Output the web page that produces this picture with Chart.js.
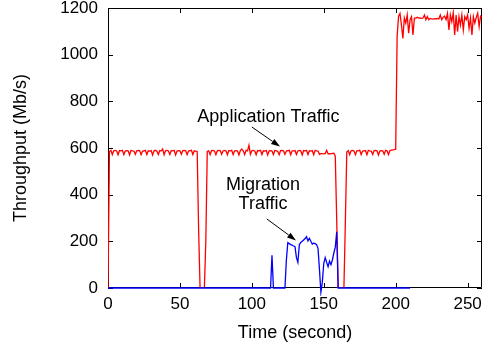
<!DOCTYPE html>
<html>
<head>
<meta charset="utf-8">
<script src="https://cdn.jsdelivr.net/npm/chart.js@4.4.0/dist/chart.umd.min.js"></script>
<style>
  html, body { margin: 0; padding: 0; background: #fff; }
  #wrap { width: 492px; height: 350px; }
</style>
</head>
<body>
<div id="wrap"><canvas id="chart" width="492" height="350"></canvas></div>
<script>
// --- data ---
// application traffic, one value per second (t = 0..260)
const appThroughput = [
  0, 585, 590, 572, 588, 590, 587, 571, 589, 588,
  590, 572, 587, 589, 588, 570, 590, 588, 587, 573,
  588, 590, 589, 571, 586, 588, 590, 572, 588, 587,
  589, 570, 588, 590, 586, 572, 589, 588, 596, 571,
  588, 590, 587, 572, 589, 588, 590, 570, 587, 589,
  588, 573, 589, 590, 588, 571, 587, 589, 590, 572,
  588, 587, 585, 250, 0, 0, 0, 0, 200, 585,
  588, 572, 589, 590, 587, 571, 588, 590, 589, 573,
  587, 590, 588, 571, 589, 588, 590, 572, 588, 589,
  587, 570, 589, 596, 588, 572, 590, 588, 612, 573,
  588, 590, 587, 571, 589, 588, 590, 572, 588, 587,
  590, 570, 588, 589, 587, 572, 590, 588, 586, 571,
  589, 590, 588, 573, 587, 589, 590, 571, 588, 588,
  589, 572, 587, 590, 588, 570, 589, 588, 590, 572,
  588, 587, 589, 571, 590, 588, 587, 573, 576, 576,
  575, 576, 590, 575, 576, 575, 577, 578, 565, 290,
  0, 0, 0, 0, 0, 280, 583, 589, 572, 588,
  590, 587, 571, 588, 589, 590, 572, 587, 588, 589,
  571, 590, 588, 587, 572, 589, 590, 588, 570, 587,
  589, 588, 573, 590, 588, 572, 589, 591, 592, 593,
  595, 1080, 1165, 1177, 1127, 1070, 1157, 1135, 1170, 1092,
  1150, 1163, 1084, 1157, 1157, 1160, 1157, 1158, 1156, 1157,
  1170, 1150, 1163, 1150, 1155, 1153, 1152, 1154, 1153, 1155,
  1153, 1170, 1150, 1160, 1165, 1150, 1177, 1106, 1170, 1142,
  1180, 1085, 1170, 1099, 1163, 1127, 1170, 1106, 1163, 1150,
  1170, 1113, 1157, 1085, 1163, 1135, 1160, 1178, 1120, 1165,
  1160
];

// migration traffic, sampled where it changes
const migTime = [
  0, 113, 114, 115, 123, 124, 125, 126, 127, 128,
  129, 130, 131, 132, 133, 134, 135, 136, 137, 138,
  139, 140, 141, 142, 143, 144, 145, 146, 147, 148,
  149, 150, 151, 152, 153, 154, 155, 156, 157, 158,
  159, 160, 210
];
const migThroughput = [
  0, 0, 140, 0, 0, 120, 194, 190, 186, 184,
  180, 177, 130, 110, 185, 195, 200, 206, 212, 220,
  202, 213, 200, 188, 192, 190, 186, 170, 80, -18,
  25, 106, 130, 110, 91, 115, 100, 120, 150, 175,
  241, 0, 0
];

const xTicks = [0, 50, 100, 150, 200, 250];
const yTicks = [0, 200, 400, 600, 800, 1000, 1200];

// labels with arrows (data coordinates)
const notes = [
  { lines: ['Application Traffic'], x: 111.5, y: 713, from: [100, 690], to: [119.6, 606] },
  { lines: ['Migration', 'Traffic'], x: 107.8, y: 420, from: [110.4, 296], to: [130.7, 204] }
];

const FONT = "'Liberation Sans', Arial, Helvetica, sans-serif";

// --- box + inward ticks on all four sides (gnuplot look) ---
const framePlugin = {
  id: 'frame',
  beforeDatasetsDraw(chart) {
    const { ctx, chartArea: a, scales: { x, y } } = chart;
    const len = 5;
    ctx.save();
    ctx.strokeStyle = '#000';
    ctx.lineWidth = 1;
    ctx.beginPath();
    ctx.rect(a.left + 0.5, a.top + 0.5, a.right - a.left - 1, a.bottom - a.top - 1);
    xTicks.forEach((v) => {
      const px = Math.round(x.getPixelForValue(v)) + 0.5;
      ctx.moveTo(px, a.bottom); ctx.lineTo(px, a.bottom - len);
      ctx.moveTo(px, a.top); ctx.lineTo(px, a.top + len);
    });
    yTicks.forEach((v) => {
      const py = Math.round(y.getPixelForValue(v)) + 0.5;
      ctx.moveTo(a.left, py); ctx.lineTo(a.left + len, py);
      ctx.moveTo(a.right, py); ctx.lineTo(a.right - len, py);
    });
    ctx.stroke();
    ctx.restore();
  }
};

// --- annotation texts and arrows ---
const notePlugin = {
  id: 'notes',
  afterDatasetsDraw(chart) {
    const { ctx, scales: { x, y } } = chart;
    ctx.save();
    ctx.fillStyle = '#000';
    ctx.strokeStyle = '#000';
    ctx.font = '18px ' + FONT;
    ctx.textAlign = 'center';
    ctx.textBaseline = 'alphabetic';
    notes.forEach((n) => {
      const tx = x.getPixelForValue(n.x);
      const ty = y.getPixelForValue(n.y);
      n.lines.forEach((line, i) => ctx.fillText(line, tx, ty + i * 19));

      const x1 = x.getPixelForValue(n.from[0]), y1 = y.getPixelForValue(n.from[1]);
      const x2 = x.getPixelForValue(n.to[0]), y2 = y.getPixelForValue(n.to[1]);
      const ang = Math.atan2(y2 - y1, x2 - x1);
      const hl = 9, hw = 3;
      ctx.lineWidth = 1;
      ctx.beginPath();
      ctx.moveTo(x1, y1);
      ctx.lineTo(x2 - hl * Math.cos(ang), y2 - hl * Math.sin(ang));
      ctx.stroke();
      ctx.beginPath();
      ctx.moveTo(x2, y2);
      ctx.lineTo(x2 - hl * Math.cos(ang) + hw * Math.sin(ang), y2 - hl * Math.sin(ang) - hw * Math.cos(ang));
      ctx.lineTo(x2 - hl * Math.cos(ang) - hw * Math.sin(ang), y2 - hl * Math.sin(ang) + hw * Math.cos(ang));
      ctx.closePath();
      ctx.fill();
    });
    ctx.restore();
  }
};

Chart.defaults.font.family = FONT;
Chart.defaults.color = '#000';

new Chart(document.getElementById('chart'), {
  type: 'line',
  data: {
    datasets: [
      {
        label: 'Migration Traffic',
        data: migTime.map((t, i) => ({ x: t, y: migThroughput[i] })),
        borderColor: '#0000ff',
        borderWidth: 1.3,
        pointRadius: 0,
        tension: 0,
        order: 0,
        clip: 8
      },
      {
        label: 'Application Traffic',
        data: appThroughput.map((v, i) => ({ x: i, y: v })),
        borderColor: '#ff0000',
        borderWidth: 1.3,
        pointRadius: 0,
        tension: 0,
        order: 1
      }
    ]
  },
  options: {
    responsive: false,
    animation: false,
    devicePixelRatio: 1,
    layout: { padding: { top: 8, right: 10, left: 0, bottom: 0 } },
    plugins: { legend: { display: false }, tooltip: { enabled: false } },
    scales: {
      x: {
        type: 'linear',
        min: 0,
        max: 260,
        grid: { display: false, drawTicks: false },
        border: { display: false },
        afterBuildTicks: (s) => { s.ticks = xTicks.map((v) => ({ value: v })); },
        afterFit: (s) => { s.height = 62; s.paddingLeft = 0; s.paddingRight = 0; },
        ticks: { padding: 6, font: { size: 17 }, maxRotation: 0, callback: (v) => String(v) },
        title: { display: true, text: 'Time (second)', font: { size: 18 }, padding: { top: 0, bottom: 6 } }
      },
      y: {
        min: 0,
        max: 1200,
        grid: { display: false, drawTicks: false },
        border: { display: false },
        afterBuildTicks: (s) => { s.ticks = yTicks.map((v) => ({ value: v })); },
        afterFit: (s) => { s.width = 108; s.paddingTop = 0; s.paddingBottom = 0; },
        ticks: { padding: 10, font: { size: 17 }, callback: (v) => String(v) },
        title: { display: true, text: 'Throughput (Mb/s)', font: { size: 18 }, padding: { top: 10, bottom: 0 } }
      }
    }
  },
  plugins: [framePlugin, notePlugin]
});
</script>
</body>
</html>
